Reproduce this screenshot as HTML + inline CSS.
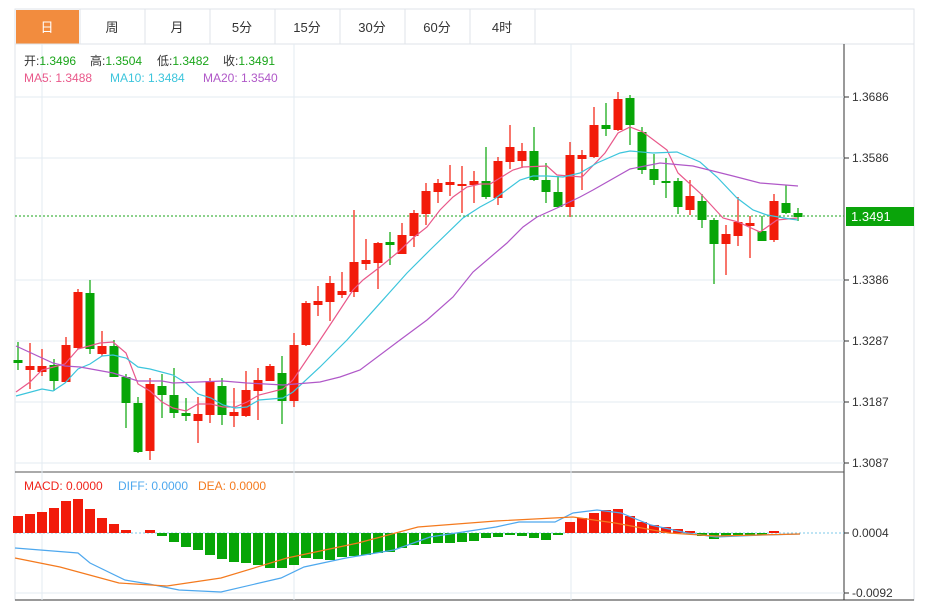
<!DOCTYPE html>
<html><head><meta charset="utf-8"><style>
body{margin:0;background:#fff;font-family:"Liberation Sans","Noto Sans CJK SC",sans-serif;}
svg{display:block}
</style></head><body>
<svg width="928" height="604" xmlns="http://www.w3.org/2000/svg" font-family="Liberation Sans, Noto Sans CJK SC, sans-serif">
<rect width="928" height="604" fill="#fff"/>
<rect x="15" y="9" width="899" height="35" fill="#fff" stroke="#dfe3e8"/>
<rect x="16" y="10" width="63" height="34" fill="#f28c3e"/>
<g stroke="#dfe3e8"><line x1="80" y1="9" x2="80" y2="44"/><line x1="145" y1="9" x2="145" y2="44"/><line x1="210" y1="9" x2="210" y2="44"/><line x1="275" y1="9" x2="275" y2="44"/><line x1="340" y1="9" x2="340" y2="44"/><line x1="405" y1="9" x2="405" y2="44"/><line x1="470" y1="9" x2="470" y2="44"/><line x1="535" y1="9" x2="535" y2="44"/></g>
<g font-size="13" text-anchor="middle" fill="#333"><text x="47" y="32" fill="#fff">日</text><text x="112" y="32">周</text><text x="177" y="32">月</text><text x="242" y="32">5分</text><text x="307" y="32">15分</text><text x="372" y="32">30分</text><text x="437" y="32">60分</text><text x="502" y="32">4时</text></g>
<rect x="15" y="44" width="899" height="556" fill="none" stroke="#dfe3e8"/>
<line x1="844" y1="44" x2="844" y2="600" stroke="#333"/>
<line x1="15" y1="472" x2="844" y2="472" stroke="#555"/>
<line x1="15" y1="600" x2="914" y2="600" stroke="#333"/>
<g stroke="#e3ebf2"><line x1="15" y1="97" x2="844" y2="97"/><line x1="15" y1="158" x2="844" y2="158"/><line x1="15" y1="280" x2="844" y2="280"/><line x1="15" y1="341" x2="844" y2="341"/><line x1="15" y1="402" x2="844" y2="402"/><line x1="15" y1="463" x2="844" y2="463"/><line x1="15" y1="593" x2="844" y2="593"/>
<line x1="42" y1="44" x2="42" y2="600"/><line x1="294" y1="44" x2="294" y2="600"/><line x1="571" y1="44" x2="571" y2="600"/></g>
<g font-size="12" fill="#333"><g stroke="#333"><line x1="844" y1="97" x2="849" y2="97"/><line x1="844" y1="158" x2="849" y2="158"/><line x1="844" y1="280" x2="849" y2="280"/><line x1="844" y1="341" x2="849" y2="341"/><line x1="844" y1="402" x2="849" y2="402"/><line x1="844" y1="463" x2="849" y2="463"/><line x1="844" y1="533" x2="849" y2="533"/><line x1="844" y1="593" x2="849" y2="593"/></g>
<text x="852" y="101">1.3686</text><text x="852" y="162">1.3586</text><text x="852" y="284">1.3386</text><text x="852" y="345">1.3287</text><text x="852" y="406">1.3187</text><text x="852" y="467">1.3087</text><text x="852" y="537">0.0004</text><text x="852" y="597">-0.0092</text></g>
<line x1="15" y1="216" x2="844" y2="216" stroke="#1aa51a" stroke-dasharray="2,2"/>
<rect x="846" y="207" width="68" height="19" fill="#0aa40a"/>
<text x="851" y="221" font-size="13" fill="#fff">1.3491</text>
<line x1="15" y1="533" x2="844" y2="533" stroke="#7cc8e8" stroke-dasharray="2,2"/>
<g font-size="12">
<text x="24" y="65" fill="#333">开:<tspan fill="#1aa51a">1.3496</tspan></text>
<text x="90" y="65" fill="#333">高:<tspan fill="#1aa51a">1.3504</tspan></text>
<text x="157" y="65" fill="#333">低:<tspan fill="#1aa51a">1.3482</tspan></text>
<text x="223" y="65" fill="#333">收:<tspan fill="#1aa51a">1.3491</tspan></text>
<text x="24" y="82" fill="#e9588a">MA5:  1.3488</text>
<text x="110" y="82" fill="#3cc5dc">MA10:  1.3484</text>
<text x="203" y="82" fill="#b058c8">MA20:  1.3540</text>
<text x="24" y="490" fill="#f0231a">MACD: 0.0000</text>
<text x="118" y="490" fill="#4ea8ee">DIFF: 0.0000</text>
<text x="198" y="490" fill="#f47a1e">DEA: 0.0000</text></g>
<g id="c"></g>
<g id="h"></g>
<polyline fill="none" stroke="#e9588a" stroke-width="1.2" points="16,392 30,382 42,370 65,364 78,349 100,343 113,342 126,353 138,384 150,391 162,402 173,408 186,411 198,404 211,404 223,407 235,407 247,402 259,395 283,389 293,380 320,340 330,325 353,290 363,280 380,267 397,253 413,238 427,227 440,210 453,197 467,187 480,184 490,184 500,178 513,170 523,167 547,166 557,175 582,177 605,153 618,133 630,127 643,132 667,150 678,173 700,193 723,218 738,222 760,232 777,220 797,218"/>
<polyline fill="none" stroke="#3cc5dc" stroke-width="1.2" points="16,396 42,389 53,391 65,383 78,369 90,364 102,356 113,355 126,358 138,367 150,369 173,375 186,383 198,394 211,398 223,405 235,408 247,407 259,400 283,398 293,392 320,367 347,340 390,292 407,273 430,250 463,218 480,207 493,200 520,180 533,176 547,176 563,177 580,173 597,163 620,153 630,151 653,153 677,152 700,162 717,177 737,198 753,210 767,215 790,219 798,220"/>
<polyline fill="none" stroke="#b058c8" stroke-width="1.2" points="16,346 53,363 65,366 80,367 113,373 138,381 162,381 173,383 223,381 247,383 283,385 320,382 340,377 360,370 400,340 427,320 453,297 473,272 507,243 523,227 537,217 557,208 580,197 593,190 630,169 660,163 693,166 733,176 760,183 798,186"/>
<polyline fill="none" stroke="#4ea8ee" stroke-width="1.2" points="15,548 78,553 90,563 125,580 149,584 179,590 221,592 281,578 304,567 346,558 394,550 430,537 496,527 519,522 555,522 573,513 597,510 621,513 651,525 687,533 716,537 764,535 800,534"/>
<polyline fill="none" stroke="#f47a1e" stroke-width="1.2" points="15,558 60,567 119,583 167,586 221,578 287,558 358,543 418,527 496,521 573,517 615,523 669,533 716,536 800,534"/>
<script>
var C=[
['G',360,363,342,370],['R',366,370,343,389],['R',366,372,349,376],['G',365,381,359,391],['R',345,382,337,382],['R',292,348,289,349],['G',293,349,280,354],['R',346,354,331,356],['G',346,377,340,377],['G',377,403,374,428],['G',403,452,397,453],['R',384,451,378,460],['G',386,395,374,418],['G',395,413,368,418],['G',413,416,398,421],['R',414,421,397,443],['R',381,415,378,423],['G',386,415,378,425],['R',412,416,388,427],['R',390,416,371,417],['R',380,391,368,420],['R',366,381,364,381],['G',373,401,356,424],['R',345,401,333,407],
['R',303,345,301,346],['R',301,305,286,316],['R',283,302,276,321],['R',291,295,272,298],['R',262,292,210,297],['R',260,264,239,270],['R',243,263,242,289],['G',242,245,232,265],['R',235,254,223,254],['R',213,236,210,247],['R',191,214,183,225],['R',183,192,179,203],['R',182,185,165,196],['R',184,186,166,213],['R',181,185,171,203],['G',181,197,147,199],['R',161,198,157,205],['R',147,162,125,169],['R',151,161,143,168],['G',151,180,127,181],['G',180,192,163,203],['G',192,207,176,208],['R',155,207,142,217],['R',155,159,150,190],
['R',125,157,107,158],['G',125,129,103,136],['R',99,130,92,131],['G',98,125,95,145],['G',132,170,127,174],['G',169,180,154,185],['G',181,183,158,198],['G',181,207,178,214],['R',196,210,180,215],['G',201,220,194,228],['G',220,244,218,284],['R',234,244,225,275],['R',222,236,197,246],['R',223,226,216,258],['G',231,241,216,241],['R',201,240,194,242],['G',203,213,185,214],['G',213,217,208,221]];
var H=[516,514,512,508,501,499,509,518,524,530,533,530,536,542,547,550,555,559,562,563,565,568,568,565,558,559,560,557,556,555,553,552,548,545,544,543,543,542,541,538,537,535,536,538,540,535,522,518,513,510,509,516,522,525,527,529,531,536,539,537,535,535,535,531,533,533];
var ns="http://www.w3.org/2000/svg",g=document.getElementById('c'),h=document.getElementById('h');
function el(p,t,a){var e=document.createElementNS(ns,t);for(var k in a)e.setAttribute(k,a[k]);p.appendChild(e);}
C.forEach(function(d,i){var x=18+12*i,col=d[0]=='R'?'#f21b0a':'#07a507';
el(g,'line',{x1:x,x2:x,y1:d[3],y2:d[4],stroke:col,'stroke-width':1.2});
el(g,'rect',{x:x-4.5,y:d[1],width:9,height:Math.max(2,d[2]-d[1]),fill:col});});
H.forEach(function(v,i){var x=18+12*i;if(v==533)return;
if(v<533)el(h,'rect',{x:x-5,y:v,width:10,height:533-v,fill:'#f21b0a'});
else el(h,'rect',{x:x-5,y:533,width:10,height:v-533,fill:'#07a507'});});
</script>
</svg>
</body></html>
